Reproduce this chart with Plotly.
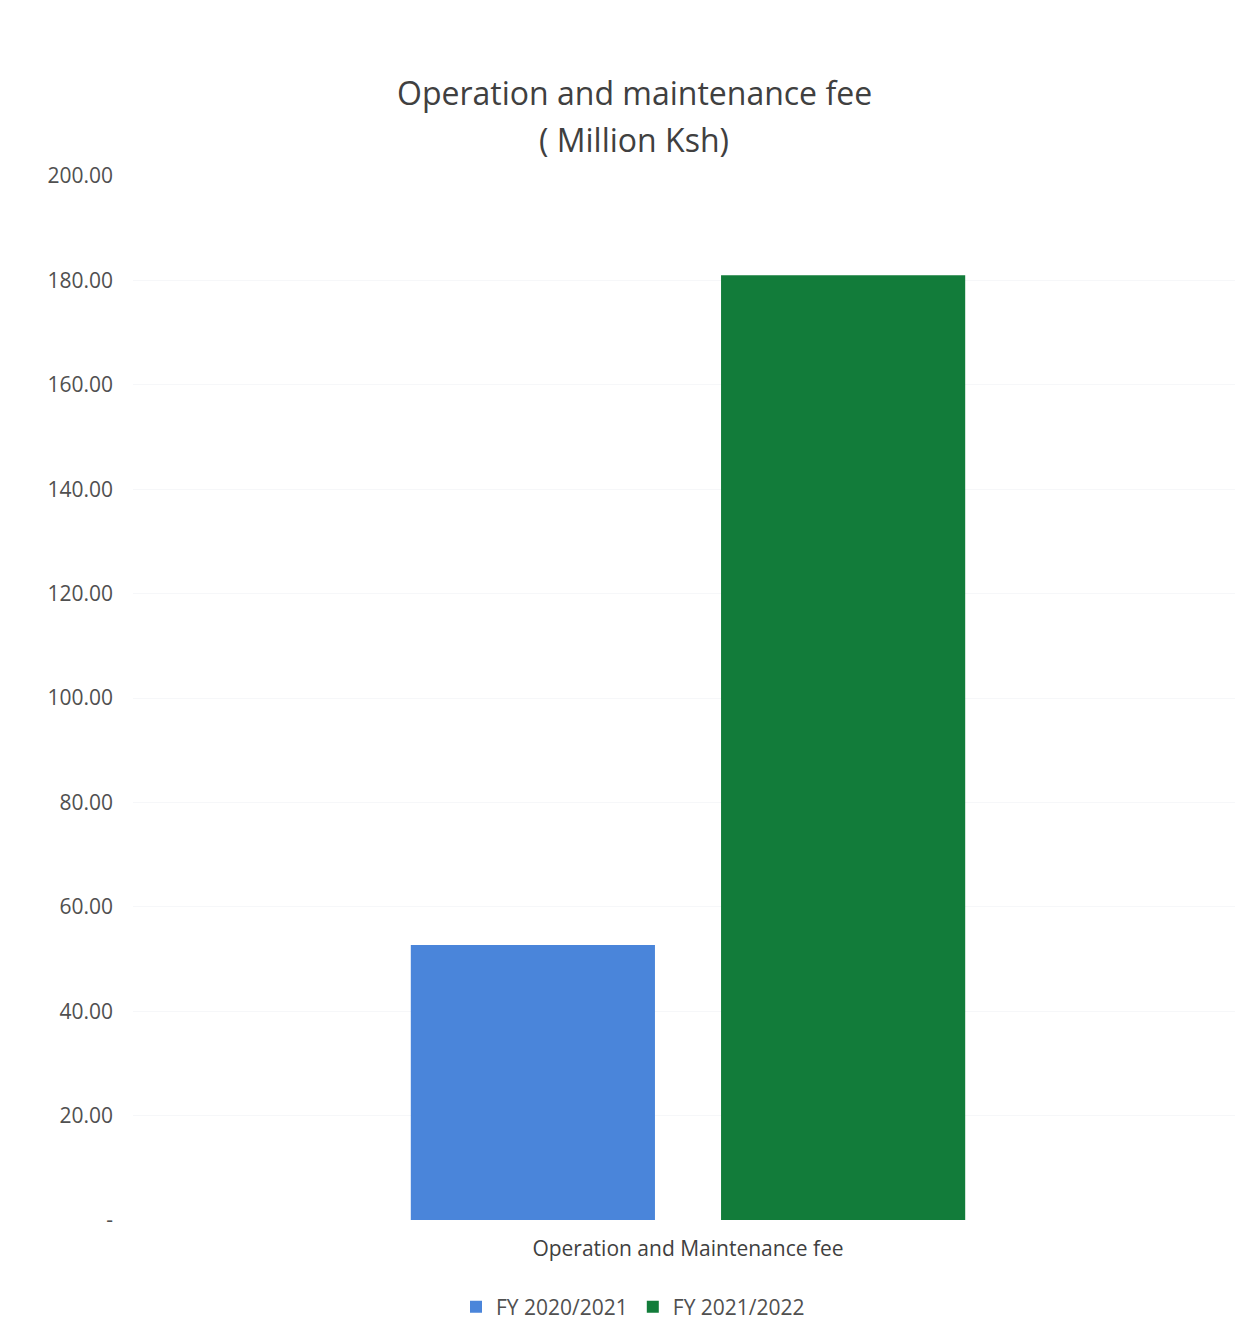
import plotly.graph_objects as go

categories = ["Operation and Maintenance fee"]
series_names = ["FY 2020/2021", "FY 2021/2022"]
fy2021_values = [52.7]
fy2022_values = [181.0]
tick_values = [0, 20, 40, 60, 80, 100, 120, 140, 160, 180, 200]
tick_labels = ["-", "20.00", "40.00", "60.00", "80.00", "100.00", "120.00",
               "140.00", "160.00", "180.00", "200.00"]
colors = ["#4a85da", "#127c3a"]

W, H = 1235, 1312

fig = go.Figure()
for name, vals, col in zip(series_names, [fy2021_values, fy2022_values], colors):
    fig.add_trace(go.Bar(x=categories, y=vals, name=name, marker=dict(color=col, line=dict(width=0))))

font_family = "Open Sans"
fig.update_layout(
    width=W, height=H,
    paper_bgcolor="white", plot_bgcolor="white",
    margin=dict(l=125, r=0, t=168, b=100),
    barmode="group", bargap=0.441, bargroupgap=0.213,
    font=dict(family=font_family, color="#595959"),
    xaxis=dict(showgrid=False, showline=False, ticks="", ticklabelstandoff=14,
               tickfont=dict(size=21, color="#404040")),
    yaxis=dict(range=[0, 200], tickvals=tick_values, ticktext=tick_labels,
               showgrid=True, gridcolor="#f6f7f9", zeroline=False, showline=False,
               ticks="", tickfont=dict(size=21, color="#505050"), ticklabelstandoff=19),
    legend=dict(orientation="h", x=625/W, xanchor="center", xref="container",
                y=1-1299/H, yref="container", yanchor="middle",
                font=dict(size=21, color="#505050"), itemwidth=30),
    showlegend=True,
    annotations=[
        dict(text="Operation and maintenance fee", xref="paper", yref="paper",
             x=(626-125)/(W-125), y=1+(168-85)/(H-268), xanchor="center", yanchor="middle",
             showarrow=False, font=dict(family=font_family, size=32, color="#404040")),
        dict(text="( Million Ksh)", xref="paper", yref="paper",
             x=(626-125)/(W-125), y=1+(168-131)/(H-268), xanchor="center", yanchor="middle",
             showarrow=False, font=dict(family=font_family, size=32, color="#404040")),
    ],
)
fig.write_html("out.html")
